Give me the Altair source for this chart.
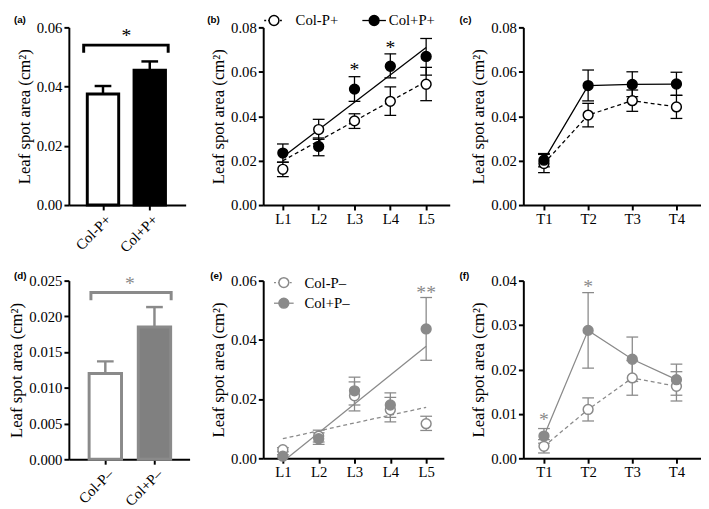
import json
import altair as alt
import pandas as pd

# ---------------- data ----------------
bar_cats_p = ["Col-P+", "Col+P+"]
bar_mean_p = [0.0375, 0.0455]
bar_upper_p = [0.0402, 0.0485]

bar_cats_n = ["Col-P\u2013", "Col+P\u2013"]
bar_mean_n = [0.0120, 0.0185]
bar_upper_n = [0.0137, 0.0213]

leaf_labels = ["L1", "L2", "L3", "L4", "L5"]
time_labels = ["T1", "T2", "T3", "T4"]
series_p = ["Col-P+", "Col+P+"]
series_n = ["Col-P\u2013", "Col+P\u2013"]

# (b) leaf position, P+
b_open_mean = [0.0161, 0.0340, 0.0379, 0.0467, 0.0544]
b_open_lo = [0.0128, 0.0296, 0.0345, 0.0404, 0.0470]
b_open_hi = [0.0193, 0.0386, 0.0411, 0.0532, 0.0620]
b_fill_mean = [0.0234, 0.0264, 0.0522, 0.0625, 0.0669]
b_fill_lo = [0.0193, 0.0222, 0.0467, 0.0573, 0.0585]
b_fill_hi = [0.0275, 0.0302, 0.0578, 0.0681, 0.0750]
b_star_x = [3, 4]
b_star_y = [0.0620, 0.0722]
b_star_text = ["*", "*"]

# (c) time, P+
c_open_mean = [0.0187, 0.0405, 0.0470, 0.0442]
c_open_lo = [0.0146, 0.0352, 0.0422, 0.0390]
c_open_hi = [0.0228, 0.0458, 0.0518, 0.0494]
c_fill_mean = [0.0202, 0.0538, 0.0543, 0.0545]
c_fill_lo = [0.0172, 0.0469, 0.0488, 0.0494]
c_fill_hi = [0.0232, 0.0608, 0.0600, 0.0598]

# (e) leaf position, P-
e_open_mean = [0.0029, 0.0075, 0.0211, 0.0164, 0.0117]
e_open_lo = [0.0022, 0.0055, 0.0160, 0.0123, 0.0094]
e_open_hi = [0.0036, 0.0095, 0.0258, 0.0206, 0.0142]
e_fill_mean = [0.0007, 0.0066, 0.0228, 0.0180, 0.0437]
e_fill_lo = [0.0002, 0.0047, 0.0180, 0.0138, 0.0331]
e_fill_hi = [0.0012, 0.0086, 0.0274, 0.0221, 0.0543]
e_star_x = [5]
e_star_y = [0.0567]
e_star_text = ["**"]

# (f) time, P-
f_open_mean = [0.0027, 0.0110, 0.0181, 0.0162]
f_open_lo = [0.0012, 0.0084, 0.0142, 0.0129]
f_open_hi = [0.0042, 0.0136, 0.0220, 0.0195]
f_fill_mean = [0.0050, 0.0288, 0.0223, 0.0177]
f_fill_lo = [0.0034, 0.0203, 0.0173, 0.0142]
f_fill_hi = [0.0067, 0.0373, 0.0273, 0.0212]
f_star_x = [1, 2]
f_star_y = [0.0093, 0.0393]
f_star_text = ["*", "*"]

# significance annotations of the bar panels (data units)
a_bracket_x = [0.587, 2.394]
a_bracket_y = [0.0514, 0.0540]
a_star_y = 0.0580
d_bracket_x = [0.707, 2.340]
d_bracket_y = [0.02225, 0.02335]
d_star_y = 0.0249

# ---------------- styles ----------------
SERIF = "Liberation Serif"
SANS = "Liberation Sans"
BLACK = "#000000"
GRAY = "#8a8a8a"
GRAY_BAR = "#808080"
YTITLE = "Leaf spot area (cm\u00b2)"
ONE = alt.Data(values=[{"k": 0}])


def x_enc(domain, labels, angle=0, field="x"):
    return alt.X(
        f"{field}:Q",
        scale=alt.Scale(domain=domain, nice=False, zero=False),
        axis=alt.Axis(
            values=list(range(1, len(labels) + 1)),
            labelExpr=json.dumps(labels) + "[datum.value - 1]",
            labelAngle=angle,
            title=None,
        ),
    )


def y_enc(field, domain, values, fmt):
    return alt.Y(
        f"{field}:Q",
        scale=alt.Scale(domain=domain, nice=False, zero=True),
        axis=alt.Axis(values=values, format=fmt, title=YTITLE),
    )


def tag_layer(text, x, y):
    return alt.Chart(ONE).mark_text(
        text=text, font=SANS, fontWeight="bold", fontSize=10, align="left",
        baseline="middle", color=BLACK,
    ).encode(x=alt.value(x), y=alt.value(y))


def legend_layers(names, color, items):
    out = []
    for name, (cx, lx1, lx2, tx, ly, filled, dashed) in zip(names, items):
        rk = dict(color=color, strokeWidth=1.3)
        if dashed:
            rk["strokeDash"] = [2, 2]
        out.append(alt.Chart(ONE).mark_rule(**rk).encode(
            x=alt.value(lx1), x2=alt.value(lx2), y=alt.value(ly)))
        out.append(alt.Chart(ONE).mark_circle(
            size=100, fill=color if filled else "white", stroke=color,
            strokeWidth=1.5, opacity=1).encode(x=alt.value(cx), y=alt.value(ly)))
        out.append(alt.Chart(ONE).mark_text(
            text=name, font=SERIF, fontSize=15, align="left", baseline="middle",
            color=BLACK).encode(x=alt.value(tx), y=alt.value(ly)))
    return out


def bar_panel(cats, means, uppers, color, fills, width, height, ydom, yvals, yfmt,
              xdom, bar_size, brx, bry, star_y, tag, tagxy):
    X = x_enc(xdom, cats, angle=-45)
    Y = lambda f: y_enc(f, ydom, yvals, yfmt)
    d = pd.DataFrame({"x": [1, 2], "cat": cats, "y": means, "hi": uppers})
    err = alt.Chart(d).mark_rule(color=color, strokeWidth=2.5).encode(
        x=X, y=Y("y"), y2="hi:Q")
    bars = alt.Chart(d).mark_bar(size=bar_size, stroke=color, strokeWidth=3).encode(
        x=X, y=Y("y"),
        fill=alt.Fill("cat:N", scale=alt.Scale(domain=cats, range=fills), legend=None))
    caps = alt.Chart(d).mark_tick(orient="horizontal", size=17, thickness=2.5,
                                  color=color, opacity=1).encode(x=X, y=Y("hi"))
    br = pd.DataFrame({"x": [brx[0], brx[0], brx[1], brx[1]],
                       "y": [bry[0], bry[1], bry[1], bry[0]],
                       "o": [0, 1, 2, 3]})
    bracket = alt.Chart(br).mark_line(color=color, strokeWidth=3, strokeJoin="miter").encode(
        x=X, y=Y("y"), order="o:Q")
    st = pd.DataFrame({"x": [1.5], "y": [star_y], "t": ["*"]})
    star = alt.Chart(st).mark_text(font=SERIF, fontSize=20, color=color,
                                   baseline="alphabetic", dy=9).encode(
        x=X, y=Y("y"), text="t:N")
    tg = tag_layer(tag, *tagxy)
    return alt.layer(err, bars, caps, bracket, star, tg).properties(width=width, height=height)


def series_df(mean, lo, hi):
    return pd.DataFrame({"x": list(range(1, len(mean) + 1)), "y": mean, "lo": lo, "hi": hi})


def line_panel(labels, open_, fill_, color, width, height, ydom, yvals, yfmt, xdom,
               mode, stars, tag, tagxy, names, legend_items):
    X = x_enc(xdom, labels)
    Y = lambda f: y_enc(f, ydom, yvals, yfmt)
    do = series_df(*open_)
    dfl = series_df(*fill_)
    layers = []
    for d, dashed in ((do, True), (dfl, False)):
        ch = alt.Chart(d)
        if mode == "regression":
            ch = ch.transform_regression("x", "y")
        kw = dict(color=color, strokeWidth=1.3, clip=True)
        if dashed:
            kw["strokeDash"] = [4, 3]
        layers.append(ch.mark_line(**kw).encode(x=X, y=Y("y")))
    for d in (do, dfl):
        layers.append(alt.Chart(d).mark_rule(color=color, strokeWidth=1.3).encode(
            x=X, y=Y("lo"), y2="hi:Q"))
        layers.append(alt.Chart(d).transform_fold(["lo", "hi"], as_=["k", "v"]).mark_tick(
            orient="horizontal", size=12, thickness=1.3, color=color, opacity=1).encode(
            x=X, y=Y("v")))
    layers.append(alt.Chart(do).mark_circle(size=100, fill="white", stroke=color,
                                            strokeWidth=1.5, opacity=1).encode(x=X, y=Y("y")))
    layers.append(alt.Chart(dfl).mark_circle(size=100, fill=color, stroke=color,
                                             strokeWidth=1.5, opacity=1).encode(x=X, y=Y("y")))
    if stars is not None:
        sx, sy, stx = stars
        sd = pd.DataFrame({"x": sx, "y": sy, "t": stx})
        layers.append(alt.Chart(sd).mark_text(font=SERIF, fontSize=20, color=color,
                                              baseline="alphabetic", dy=9).encode(
            x=X, y=Y("y"), text="t:N"))
    if legend_items is not None:
        layers += legend_layers(names, color, legend_items)
    layers.append(tag_layer(tag, *tagxy))
    return alt.layer(*layers).properties(width=width, height=height)


# ---------------- panels ----------------
pa = bar_panel(bar_cats_p, bar_mean_p, bar_upper_p, BLACK, ["white", BLACK],
               119, 181, [0, 0.06], [0, 0.02, 0.04, 0.06], ".2f",
               [0.375, 2.663], 32, a_bracket_x, a_bracket_y, a_star_y, "(a)", (-56, -7))

pd_ = bar_panel(bar_cats_n, bar_mean_n, bar_upper_n, GRAY, ["white", GRAY_BAR],
                123, 182, [0, 0.025], [0, 0.005, 0.01, 0.015, 0.02, 0.025], ".3f",
                [0.358, 2.615], 33, d_bracket_x, d_bracket_y, d_star_y, "(d)", (-56, -5))

pb = line_panel(leaf_labels, (b_open_mean, b_open_lo, b_open_hi),
                (b_fill_mean, b_fill_lo, b_fill_hi), BLACK, 190, 181,
                [0, 0.08], [0, 0.02, 0.04, 0.06, 0.08], ".2f", [0.452, 5.658],
                "regression", (b_star_x, b_star_y, b_star_text), "(b)", (-57, -7),
                series_p,
                [(11, 1, 21, 33, -7, False, True), (113, 101, 125, 128, -7, True, False)])

pc = line_panel(time_labels, (c_open_mean, c_open_lo, c_open_hi),
                (c_fill_mean, c_fill_lo, c_fill_hi), BLACK, 181, 181,
                [0, 0.08], [0, 0.02, 0.04, 0.06, 0.08], ".2f", [0.533, 4.556],
                "connect", None, "(c)", (-65, -7), series_p, None)

pe = line_panel(leaf_labels, (e_open_mean, e_open_lo, e_open_hi),
                (e_fill_mean, e_fill_lo, e_fill_hi), GRAY, 184, 181,
                [0, 0.06], [0, 0.02, 0.04, 0.06], ".2f", [0.452, 5.493],
                "regression", (e_star_x, e_star_y, e_star_text), "(e)", (-54, -5),
                series_n,
                [(21, 11, 31, 42, 2, False, True), (21, 11, 31, 42, 23, True, False)])

pf = line_panel(time_labels, (f_open_mean, f_open_lo, f_open_hi),
                (f_fill_mean, f_fill_lo, f_fill_hi), GRAY, 181, 181,
                [0, 0.04], [0, 0.01, 0.02, 0.03, 0.04], ".2f", [0.533, 4.556],
                "connect", (f_star_x, f_star_y, f_star_text), "(f)", (-65, -5), series_n, None)

chart = (
    alt.concat(pa, pb, pc, pd_, pe, pf, columns=3, bounds="flush",
               spacing={"row": 77, "column": 75})
    .resolve_scale(fill="independent")
    .properties(padding=0)
    .configure_view(stroke=None)
    .configure_axis(
        domainColor=BLACK, domainWidth=2, tickColor=BLACK, tickWidth=2, tickSize=5,
        grid=False, labelFont=SERIF, labelFontSize=15, labelColor=BLACK, labelPadding=2,
        titleFont=SERIF, titleFontSize=17, titleFontWeight="normal", titleColor=BLACK,
        titlePadding=3,
    )
    .configure_axisX(labelFontSize=15)
)

chart.save("out.html", embed_options={"renderer": "svg", "actions": False})
